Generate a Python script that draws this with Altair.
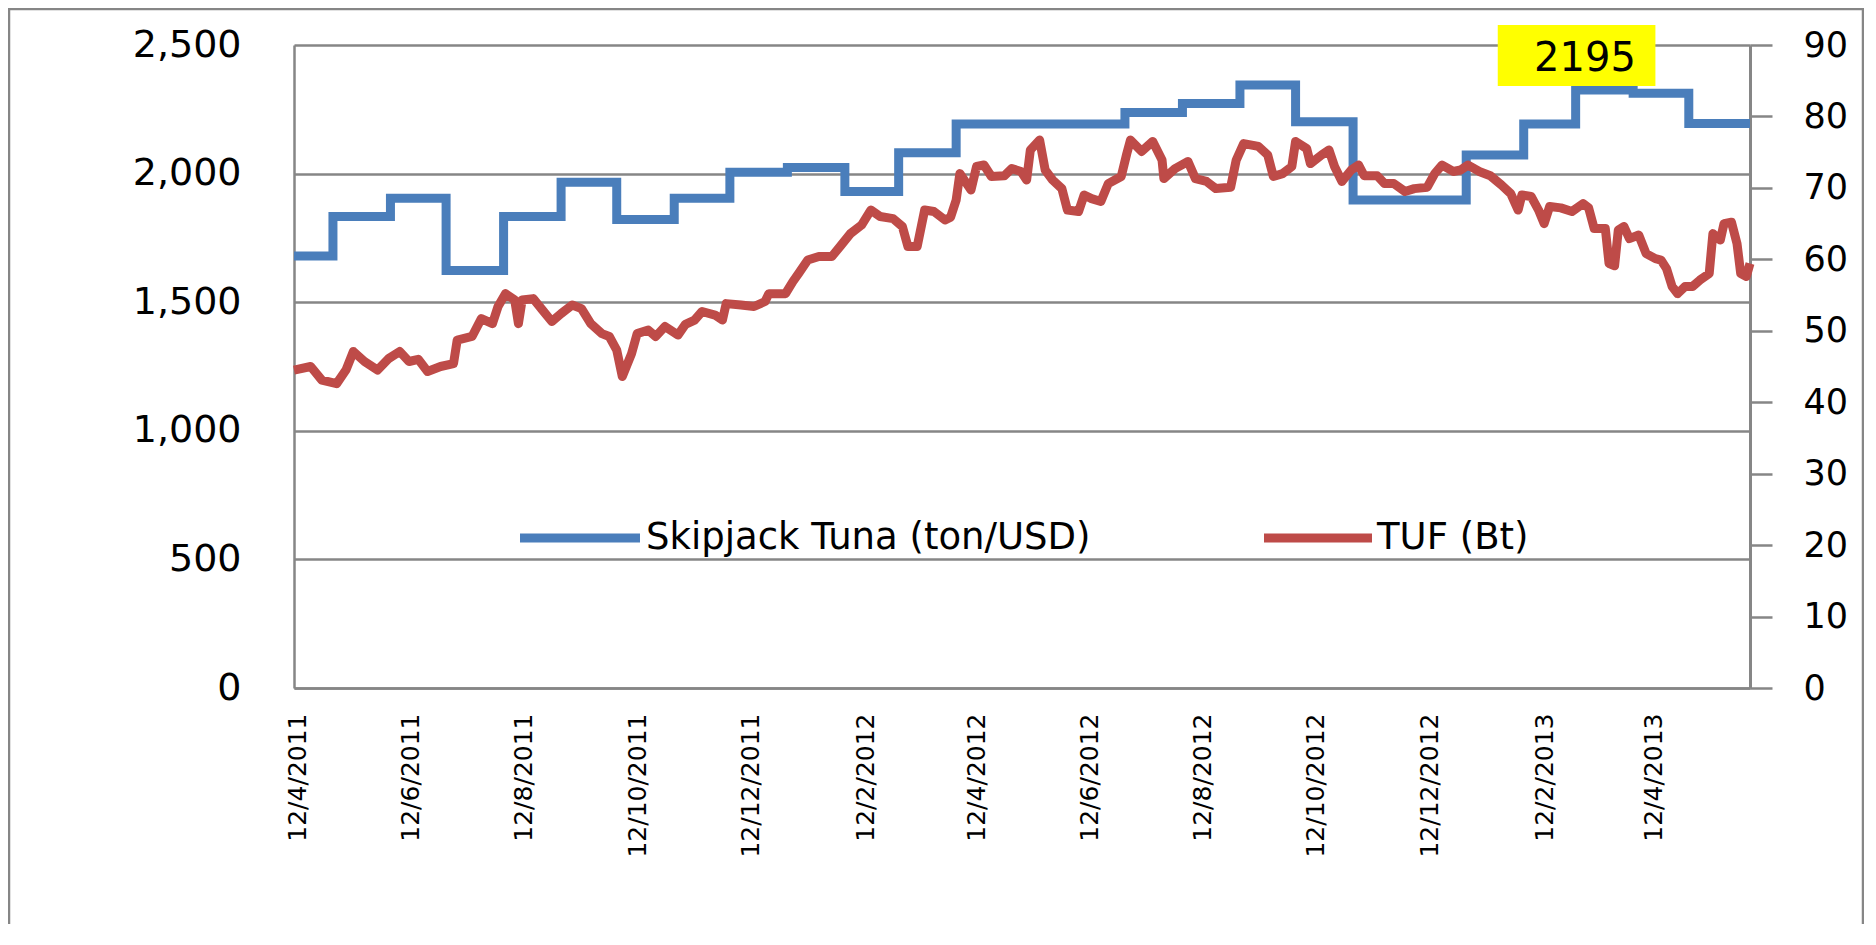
import altair as alt
import pandas as pd

FONT = "DejaVu Sans"
GRAY = "#868686"
BLUE = "#4A7EBB"
RED = "#BE4B48"

# ---- Skipjack Tuna (ton/USD), monthly price (step line, left axis) ----
blue_dates = ["2011-04-10", "2011-05-01", "2011-06-01", "2011-07-01", "2011-08-01",
              "2011-09-01", "2011-10-01", "2011-11-01", "2011-12-01", "2012-01-01",
              "2012-02-01", "2012-03-01", "2012-04-01", "2012-05-01", "2012-06-01",
              "2012-07-01", "2012-08-01", "2012-09-01", "2012-10-01", "2012-11-01",
              "2012-12-01", "2013-01-01", "2013-02-01", "2013-03-01", "2013-04-01",
              "2013-05-01", "2013-06-03"]
blue_vals = [1680, 1833, 1904, 1623, 1833,
             1966, 1822, 1904, 2005, 2024,
             1930, 2081, 2193, 2193, 2193,
             2238, 2273, 2344, 2202, 1897,
             1897, 2072, 2193, 2325, 2312,
             2195, 2195]

# ---- TUF (Bt) share price (right axis); days counted from red_base ----
red_base = "2011-04-13"
red_day = [-3, 6, 12, 20, 25, 29, 35, 42, 48, 54,
           59, 64, 69, 76, 83, 85, 93, 98, 104, 107,
           111, 116, 118, 120, 126, 131, 136, 141, 147, 152,
           157, 163, 167, 171, 174, 179, 182, 188, 192, 197,
           204, 208, 213, 217, 224, 228, 230, 238, 245, 251,
           253, 262, 266, 269, 274, 280, 287, 292, 297, 303,
           308, 313, 320, 325, 328, 333, 337, 342, 348, 351,
           354, 356, 362, 365, 369, 373, 380, 384, 389, 392,
           394, 399, 402, 406, 411, 414, 420, 423, 427, 432,
           436, 443, 446, 448, 454, 460, 465, 466, 472, 479,
           483, 489, 494, 502, 505, 509, 517, 522, 525, 530,
           535, 537, 543, 545, 551, 555, 558, 562, 567, 571,
           574, 581, 585, 590, 596, 601, 608, 612, 616, 622,
           626, 630, 636, 642, 648, 653, 657, 659, 664, 668,
           671, 674, 680, 686, 692, 695, 698, 704, 706, 709,
           711, 714, 717, 722, 726, 731, 734, 737, 740, 743,
           747, 751, 755, 760, 762, 766, 768, 772, 775, 777,
           780, 782]
red_vals = [44.5, 45.0, 43.1, 42.6, 44.5, 47.1, 45.7, 44.5, 46.1, 47.1,
            45.7, 46.0, 44.3, 45.0, 45.4, 48.7, 49.2, 51.7, 51.0, 53.4,
            55.2, 54.3, 51.0, 54.3, 54.5, 52.9, 51.3, 52.4, 53.6, 53.1,
            51.0, 49.6, 49.2, 47.3, 43.6, 46.8, 49.6, 50.1, 49.2, 50.6,
            49.4, 50.9, 51.5, 52.7, 52.2, 51.5, 53.8, 53.6, 53.4, 54.1,
            55.2, 55.2, 56.9, 58.0, 59.9, 60.4, 60.4, 62.0, 63.6, 64.8,
            66.9, 66.0, 65.7, 64.6, 61.8, 61.8, 66.9, 66.7, 65.5, 65.9,
            68.3, 72.0, 69.7, 73.0, 73.2, 71.6, 71.7, 72.7, 72.3, 71.1,
            75.3, 76.7, 72.5, 71.1, 69.9, 66.9, 66.7, 69.0, 68.5, 68.1,
            70.6, 71.6, 74.8, 76.7, 75.1, 76.5, 73.9, 71.3, 72.7, 73.7,
            71.3, 70.9, 69.9, 70.1, 73.9, 76.2, 75.8, 74.6, 71.6, 72.0,
            73.0, 76.5, 75.5, 73.4, 74.6, 75.3, 73.0, 70.9, 72.5, 73.2,
            71.7, 71.7, 70.6, 70.6, 69.5, 69.9, 70.1, 72.0, 73.2, 72.3,
            72.5, 73.2, 72.3, 71.7, 70.4, 69.2, 66.9, 69.0, 68.8, 66.9,
            65.0, 67.4, 67.2, 66.7, 67.8, 67.2, 64.3, 64.3, 59.4, 59.1,
            64.1, 64.6, 62.9, 63.4, 60.8, 60.1, 59.9, 58.7, 56.2, 55.2,
            56.2, 56.2, 57.1, 58.0, 63.6, 62.7, 65.0, 65.2, 62.2, 58.0,
            57.6, 59.4]

# axis ticks / labels
x_tick_dates = [(2011, 4), (2011, 6), (2011, 8), (2011, 10), (2011, 12),
                (2012, 2), (2012, 4), (2012, 6), (2012, 8), (2012, 10), (2012, 12),
                (2013, 2), (2013, 4)]
left_ticks = [0, 500, 1000, 1500, 2000, 2500]
right_ticks = [0, 10, 20, 30, 40, 50, 60, 70, 80, 90]

# annotation
ann_label = "2195"
ann_x, ann_x2, ann_xt = "2013-01-18", "2013-04-13", "2013-03-06"
ann_lo, ann_hi, ann_yt = 2341, 2578, 2446

legend_names = ["Skipjack Tuna (ton/USD)", "TUF (Bt)"]

# ---- tables ----
blue_df = pd.DataFrame({"date": blue_dates, "value": blue_vals})
base = pd.Timestamp(red_base)
red_df = pd.DataFrame({
    "date": [(base + pd.Timedelta(days=d)).strftime("%Y-%m-%d") for d in red_day],
    "value": red_vals,
})
ann_df = pd.DataFrame({"x": [ann_x], "x2": [ann_x2], "xt": [ann_xt],
                       "lo": [ann_lo], "hi": [ann_hi], "yt": [ann_yt],
                       "label": [ann_label]})
one = pd.DataFrame({"a": [0]})

W, H = 1456, 643


def dt(y, m, d):
    return alt.DateTime(year=y, month=m, date=d, utc=True)


x_scale = alt.Scale(type="utc", domain=[dt(2011, 4, 10), dt(2013, 6, 3)])
x_axis = alt.Axis(values=[dt(y, m, 12) for y, m in x_tick_dates],
                  labelExpr="utcFormat(datum.value, '%-d/%-m/%Y')",
                  labelAngle=-90, labelAlign="right", labelBaseline="middle",
                  labelPadding=25, labelFontSize=25, labelFont=FONT,
                  labelColor="black", labelOverlap=False, labelFlush=False,
                  ticks=False, domain=True, domainColor=GRAY, domainWidth=2.5,
                  grid=False, title=None)

left_scale = alt.Scale(domain=[0, 2500], nice=False, zero=True)
left_axis = alt.Axis(orient="left", values=left_ticks, format=",d",
                     grid=True, gridColor=GRAY, gridWidth=2.5, gridOpacity=1,
                     ticks=False, domain=True, domainColor=GRAY, domainWidth=2.5,
                     labelPadding=53,
                     labelFontSize=38, labelFont=FONT, labelColor="black",
                     title=None)
right_scale = alt.Scale(domain=[0, 90], nice=False, zero=True)
right_axis = alt.Axis(orient="right", values=right_ticks, format="d",
                      grid=False, ticks=True, tickSize=22, tickWidth=2.5,
                      tickColor=GRAY, domain=True, domainColor=GRAY, domainWidth=3,
                      labelPadding=31,
                      labelFontSize=35, labelFont=FONT, labelColor="black",
                      title=None)

blue_line = alt.Chart(blue_df).mark_line(
    color=BLUE, strokeWidth=9, interpolate="step-after"
).encode(
    x=alt.X("date:T", scale=x_scale, axis=x_axis),
    y=alt.Y("value:Q", scale=left_scale, axis=left_axis),
)

ann_box = alt.Chart(ann_df).mark_rect(color="#FFFF00").encode(
    x=alt.X("x:T", scale=x_scale, axis=x_axis),
    x2="x2:T",
    y=alt.Y("lo:Q", scale=left_scale, axis=left_axis),
    y2="hi:Q",
)
ann_text = alt.Chart(ann_df).mark_text(
    fontSize=40, font=FONT, color="black", align="center", baseline="middle"
).encode(
    x=alt.X("xt:T", scale=x_scale, axis=x_axis),
    y=alt.Y("yt:Q", scale=left_scale, axis=left_axis),
    text="label:N",
)

left_group = alt.layer(blue_line, ann_box, ann_text)

red_line = alt.Chart(red_df).mark_line(
    color=RED, strokeWidth=9, strokeJoin="round"
).encode(
    x=alt.X("date:T", scale=x_scale, axis=x_axis),
    y=alt.Y("value:Q", scale=right_scale, axis=right_axis),
)

# legend (drawn inside the plot, Excel style)
leg_blue_rule = alt.Chart(one).mark_rule(color=BLUE, strokeWidth=9, strokeCap="butt").encode(
    x=alt.value(226), x2=alt.value(346), y=alt.value(493))
leg_blue_text = alt.Chart(one).mark_text(
    align="left", baseline="middle", fontSize=37, font=FONT, color="black"
).encode(x=alt.value(352), y=alt.value(493), text=alt.value(legend_names[0]))
leg_red_rule = alt.Chart(one).mark_rule(color=RED, strokeWidth=9, strokeCap="butt").encode(
    x=alt.value(970), x2=alt.value(1078), y=alt.value(493))
leg_red_text = alt.Chart(one).mark_text(
    align="left", baseline="middle", fontSize=37, font=FONT, color="black"
).encode(x=alt.value(1083), y=alt.value(493), text=alt.value(legend_names[1]))

red_group = alt.layer(red_line, leg_blue_rule, leg_blue_text, leg_red_rule, leg_red_text)

# outer chart-area border
border = alt.Chart(one).mark_rect(fillOpacity=0, stroke=GRAY, strokeWidth=2.5).encode(
    x=alt.value(-285), x2=alt.value(1569), y=alt.value(-36), y2=alt.value(1400))

chart = alt.layer(border, left_group, red_group).resolve_scale(
    y="independent"
).properties(
    width=W, height=H,
    autosize=alt.AutoSizeParams(type="none"),
    padding={"left": 286, "top": 37, "right": 114, "bottom": 236},
    background="white",
).configure_view(
    strokeWidth=0
).configure(font=FONT)

chart.save("out.html", embed_options={"renderer": "svg", "actions": False})
